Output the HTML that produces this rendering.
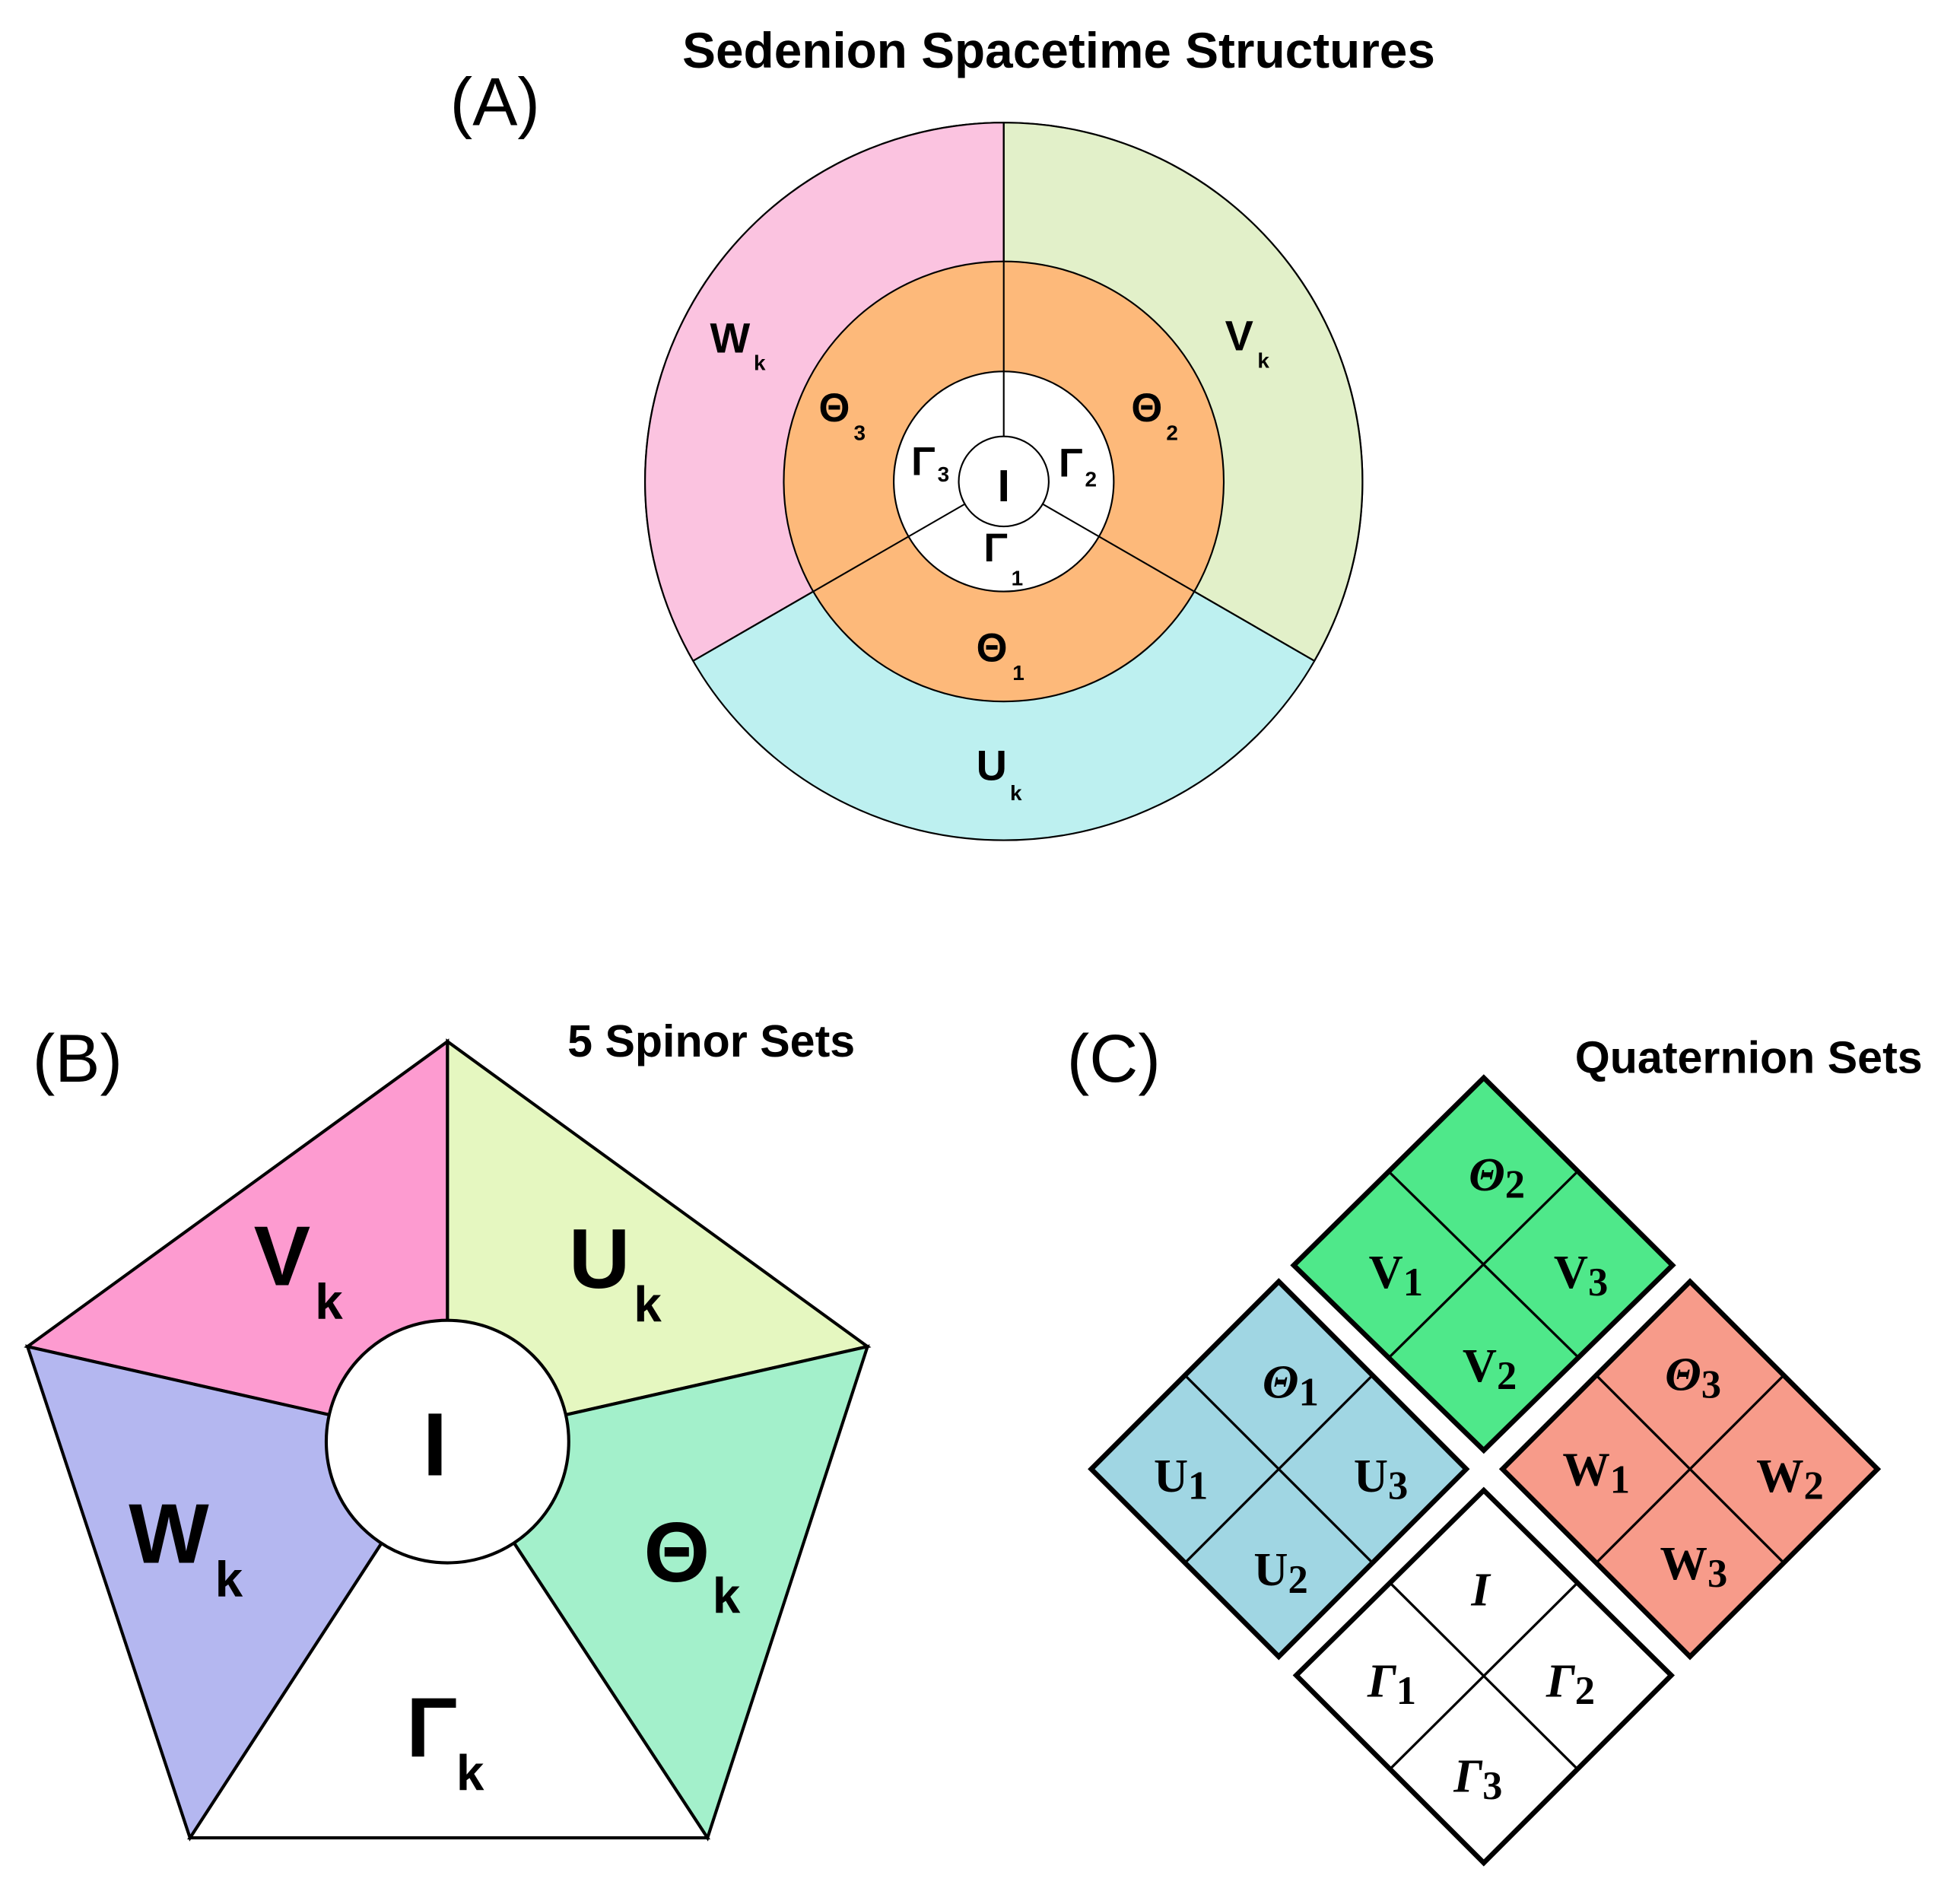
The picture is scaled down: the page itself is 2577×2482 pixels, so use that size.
<!DOCTYPE html>
<html><head><meta charset="utf-8"><style>
html,body{margin:0;padding:0;background:#fff;}
svg{display:block;}
.s{font-family:"Liberation Sans",sans-serif;font-weight:bold;fill:#000;}
.r{font-family:"Liberation Serif",serif;font-weight:bold;fill:#000;}
.ri{font-family:"Liberation Serif",serif;font-weight:bold;font-style:italic;fill:#000;}
.n{font-family:"Liberation Sans",sans-serif;fill:#000;}
</style></head><body>
<svg width="2577" height="2482" viewBox="0 0 1568 1510" xmlns="http://www.w3.org/2000/svg">
<!-- Panel A -->
<text class="s" x="847" y="54" font-size="40" text-anchor="middle">Sedenion Spacetime Structures</text>
<text class="n" x="396" y="100" font-size="54" text-anchor="middle">(A)</text>
<g stroke="#000" stroke-width="1.3">
<circle cx="803" cy="385" r="287" fill="#bdf0f0"/>
<path d="M803 385 L803 98 A287 287 0 0 0 554.5 528.5 Z" fill="#fbc3e0"/>
<path d="M803 385 L803 98 A287 287 0 0 1 1051.5 528.5 Z" fill="#e2f0c9"/>
<circle cx="803" cy="385" r="176" fill="#fdb97a"/>
<circle cx="803" cy="385" r="88" fill="#fff"/>
<line x1="803" y1="98" x2="803" y2="349"/>
<line x1="554.5" y1="528.5" x2="772" y2="403"/>
<line x1="1051.5" y1="528.5" x2="834" y2="403"/>
<circle cx="803" cy="385" r="36" fill="#fff"/>
</g>
<g class="s">
<text x="568" y="282" font-size="34">W</text><text x="603" y="296" font-size="17">k</text>
<text x="980" y="280" font-size="34">V</text><text x="1006" y="294" font-size="17">k</text>
<text x="655" y="337" font-size="32">Θ</text><text x="683" y="352" font-size="17">3</text>
<text x="905" y="337" font-size="32">Θ</text><text x="933" y="352" font-size="17">2</text>
<text x="729" y="380" font-size="32">Γ</text><text x="750" y="385" font-size="17">3</text>
<text x="847" y="381" font-size="32">Γ</text><text x="868" y="389" font-size="17">2</text>
<text x="803" y="401" font-size="36" text-anchor="middle">I</text>
<text x="787" y="449" font-size="32">Γ</text><text x="809" y="468" font-size="17">1</text>
<text x="781" y="529" font-size="32">Θ</text><text x="810" y="544" font-size="17">1</text>
<text x="781" y="624" font-size="34">U</text><text x="808" y="640" font-size="17">k</text>
</g>
<!-- Panel B -->
<text class="n" x="62" y="865" font-size="54" text-anchor="middle">(B)</text>
<text class="s" x="569" y="845" font-size="36" text-anchor="middle">5 Spinor Sets</text>
<g stroke="#000" stroke-width="2.5" stroke-linejoin="miter">
<polygon points="358,1153 358,833 22,1077" fill="#fd9bd0"/>
<polygon points="358,1153 358,833 694,1077" fill="#e5f7c0"/>
<polygon points="358,1153 694,1077 566,1470" fill="#a3f0cb"/>
<polygon points="358,1153 566,1470 152,1470" fill="#fff"/>
<polygon points="358,1153 152,1470 22,1077" fill="#b4b7f0"/>
<circle cx="358" cy="1153" r="97" fill="#fff"/>
</g>
<g class="s">
<text x="203" y="1028" font-size="68">V</text><text x="252" y="1055" font-size="40">k</text>
<text x="455" y="1030" font-size="68">U</text><text x="507" y="1057" font-size="40">k</text>
<text x="103" y="1250" font-size="68">W</text><text x="172" y="1277" font-size="40">k</text>
<text x="515" y="1265" font-size="68">Θ</text><text x="570" y="1290" font-size="40">k</text>
<text x="325" y="1405" font-size="68">Γ</text><text x="365" y="1432" font-size="40">k</text>
<text x="348" y="1180" font-size="72" text-anchor="middle">I</text>
</g>
<!-- Panel C -->
<text class="n" x="891" y="865" font-size="54" text-anchor="middle">(C)</text>
<text class="s" x="1399" y="858" font-size="36" text-anchor="middle">Quaternion Sets</text>
<g stroke="#000" stroke-width="4" stroke-linejoin="miter">
<polygon points="1187,862 1338,1012 1187,1160 1035,1012" fill="#4fe88a"/>
<polygon points="1023,1025 1173,1175 1023,1325 873,1175" fill="#a0d6e3"/>
<polygon points="1352,1025 1502,1175 1352,1325 1202,1175" fill="#f79b8a"/>
<polygon points="1187,1192 1337,1340 1187,1490 1037,1340" fill="#fff"/>
</g>
<g stroke="#000" stroke-width="2">
<line x1="1111" y1="937" x2="1263" y2="1086"/><line x1="1262" y1="937" x2="1111" y2="1086"/>
<line x1="948" y1="1100" x2="1098" y2="1250"/><line x1="1098" y1="1100" x2="948" y2="1250"/>
<line x1="1277" y1="1100" x2="1427" y2="1250"/><line x1="1427" y1="1100" x2="1277" y2="1250"/>
<line x1="1112" y1="1266" x2="1262" y2="1415"/><line x1="1262" y1="1266" x2="1112" y2="1415"/>
</g>
<g font-size="38">
<text class="ri" x="1175" y="952">Θ<tspan class="r" font-style="normal" font-size="32" dy="6">2</tspan></text>
<text class="r" x="1095" y="1030">V<tspan font-size="32" dy="6">1</tspan></text>
<text class="r" x="1243" y="1030">V<tspan font-size="32" dy="6">3</tspan></text>
<text class="r" x="1170" y="1105">V<tspan font-size="32" dy="6">2</tspan></text>
<text class="ri" x="1010" y="1118">Θ<tspan font-style="normal" font-size="32" dy="6">1</tspan></text>
<text class="r" x="923" y="1193">U<tspan font-size="32" dy="6">1</tspan></text>
<text class="r" x="1083" y="1193">U<tspan font-size="32" dy="6">3</tspan></text>
<text class="r" x="1003" y="1268">U<tspan font-size="32" dy="6">2</tspan></text>
<text class="ri" x="1332" y="1112">Θ<tspan font-style="normal" font-size="32" dy="6">3</tspan></text>
<text class="r" x="1250" y="1188">W<tspan font-size="32" dy="6">1</tspan></text>
<text class="r" x="1405" y="1193">W<tspan font-size="32" dy="6">2</tspan></text>
<text class="r" x="1328" y="1263">W<tspan font-size="32" dy="6">3</tspan></text>
<text class="ri" x="1177" y="1284">I</text>
<text class="ri" x="1094" y="1357">Γ<tspan font-style="normal" font-size="32" dy="6">1</tspan></text>
<text class="ri" x="1237" y="1357">Γ<tspan font-style="normal" font-size="32" dy="6">2</tspan></text>
<text class="ri" x="1163" y="1433">Γ<tspan font-style="normal" font-size="32" dy="6">3</tspan></text>
</g>
</svg>
</body></html>
